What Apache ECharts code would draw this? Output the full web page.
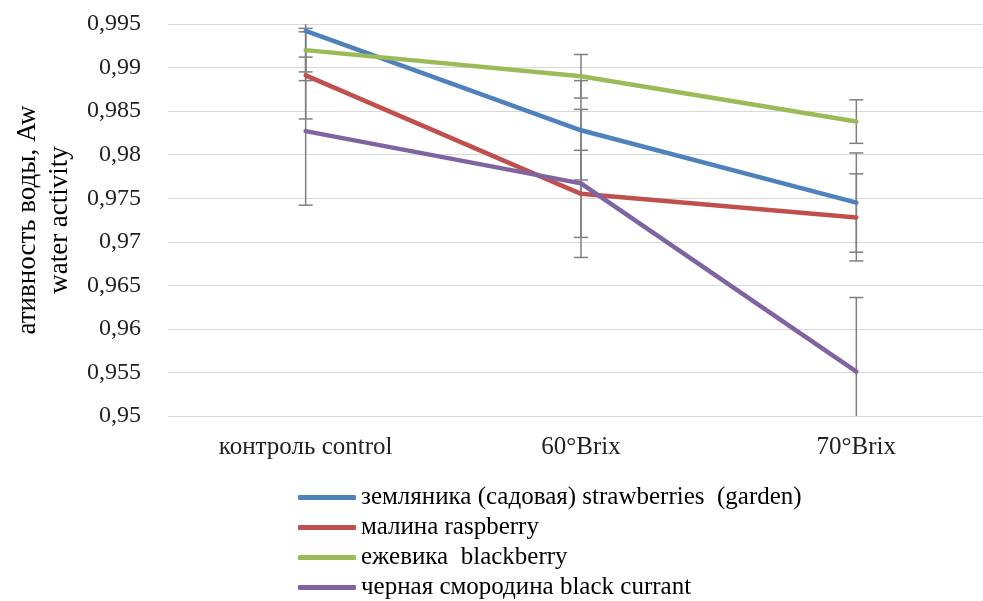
<!DOCTYPE html>
<html>
<head>
<meta charset="utf-8">
<script src="https://cdn.jsdelivr.net/npm/echarts@6/dist/echarts.min.js"></script>
<style>
  html, body { margin: 0; padding: 0; background: #fff; }
  #main { width: 983px; height: 601px; }
</style>
</head>
<body>
<div id="main"></div>
<script>
// categories on the x axis
var categories = ['контроль control', '60°Brix', '70°Brix'];

// series names (legend)
var names = [
    'земляника (садовая) strawberries  (garden)',
    'малина raspberry',
    'ежевика  blackberry',
    'черная смородина black currant'
];

// mean values
var strawberry = [0.9942, 0.9828, 0.9745];
var raspberry  = [0.9891, 0.9755, 0.9728];
var blackberry = [0.9920, 0.9890, 0.9838];
var currant    = [0.9827, 0.9767, 0.9551];

// error bar half-widths
var strawberryErr = [0.0057, 0.0057, 0.0057];
var raspberryErr  = [0.0050, 0.0050, 0.0050];
var blackberryErr = [0.0025, 0.0025, 0.0025];
var currantErr    = [0.0085, 0.0085, 0.0085];

var colors = ['#4f81bd', '#c0504d', '#9bbb59', '#8064a2'];
var yMin = 0.95, yMax = 0.995;
var font = '"Liberation Serif", "Times New Roman", serif';

var values = [strawberry, raspberry, blackberry, currant];
var errors = [strawberryErr, raspberryErr, blackberryErr, currantErr];

function fmt(v) {
    return parseFloat(v.toFixed(3)).toString().replace('.', ',');
}

function errorBars(vals, errs) {
    var data = vals.map(function (v, i) { return [i, v - errs[i], v + errs[i]]; });
    return {
        type: 'custom',
        z: 1,
        silent: true,
        data: data,
        renderItem: function (params, api) {
            var x = api.value(0);
            var lo = api.value(1), hi = api.value(2);
            var loC = Math.max(lo, yMin), hiC = Math.min(hi, yMax);
            var p1 = api.coord([x, hiC]);
            var p2 = api.coord([x, loC]);
            var w = 7;
            var style = { stroke: '#7f7f7f', lineWidth: 1.5 };
            var children = [{
                type: 'line',
                shape: { x1: p1[0], y1: p1[1], x2: p2[0], y2: p2[1] },
                style: style
            }];
            if (hi <= yMax) {
                children.push({ type: 'line', shape: { x1: p1[0] - w, y1: p1[1], x2: p1[0] + w, y2: p1[1] }, style: style });
            }
            if (lo >= yMin) {
                children.push({ type: 'line', shape: { x1: p2[0] - w, y1: p2[1], x2: p2[0] + w, y2: p2[1] }, style: style });
            }
            return { type: 'group', children: children };
        }
    };
}

var series = [];
values.forEach(function (vals, k) {
    series.push(errorBars(vals, errors[k]));
});
values.forEach(function (vals, k) {
    series.push({
        name: names[k],
        type: 'line',
        z: 3,
        data: vals,
        showSymbol: false,
        symbol: 'none',
        lineStyle: { color: colors[k], width: 4.5, cap: 'round' },
        itemStyle: { color: colors[k] }
    });
});

var option = {
    animation: false,
    textStyle: { fontFamily: font },
    grid: { left: 168, top: 24, width: 826, height: 392, outerBoundsMode: 'none', containLabel: false },
    legend: {
        orient: 'vertical',
        left: 298,
        top: 485,
        height: 200,
        padding: 0,
        itemWidth: 58,
        itemHeight: 5,
        itemGap: 5,
        icon: 'roundRect',
        data: names,
        textStyle: { fontFamily: font, fontSize: 25, lineHeight: 24, color: '#000' }
    },
    xAxis: {
        type: 'category',
        data: categories,
        boundaryGap: true,
        axisLine: { show: true, lineStyle: { color: '#d9d9d9', width: 1 } },
        axisTick: { show: false },
        axisLabel: { fontFamily: font, fontSize: 25, color: '#222', margin: 19 }
    },
    yAxis: {
        type: 'value',
        min: yMin,
        max: yMax,
        interval: 0.005,
        name: 'ативность воды, Aw\nwater activity',
        nameLocation: 'middle',
        nameRotate: 90,
        nameGap: 92,
        nameTextStyle: { fontFamily: font, fontSize: 27, color: '#000', lineHeight: 32 },
        axisLine: { show: false },
        axisTick: { show: false },
        splitLine: { lineStyle: { color: '#d9d9d9', width: 1 } },
        axisLabel: { fontFamily: font, fontSize: 24, color: '#222', margin: 27, formatter: fmt }
    },
    series: series
};

echarts.init(document.getElementById('main')).setOption(option);
</script>
</body>
</html>
